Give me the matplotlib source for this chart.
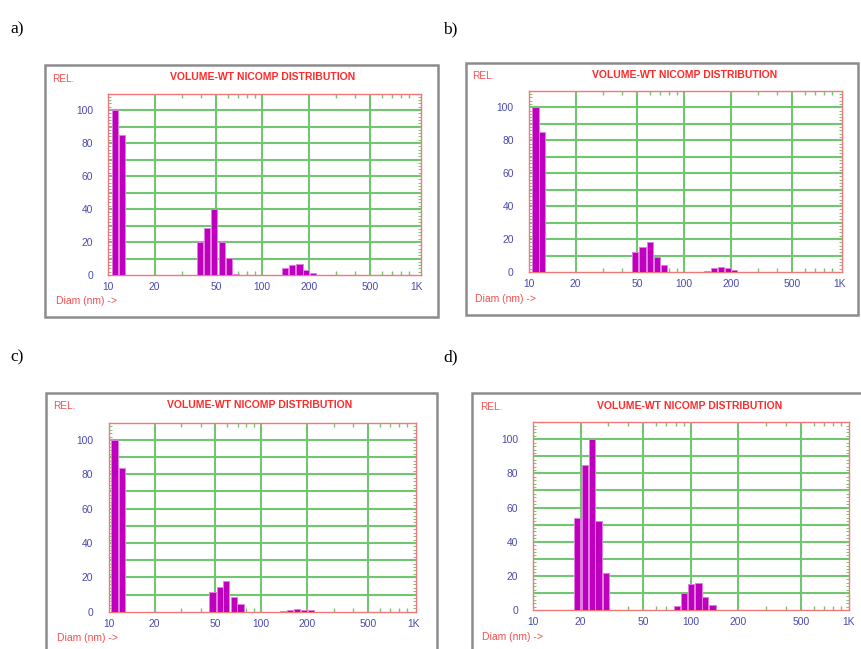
import matplotlib
matplotlib.use("Agg")
import matplotlib.pyplot as plt
import matplotlib.patches as patches
from matplotlib.ticker import FixedLocator, NullFormatter, MultipleLocator
import numpy as np

W, H = 861, 649

# ---------------- data ----------------
panel_labels = ["a)", "b)", "c)", "d)"]
title_text = "VOLUME-WT NICOMP DISTRIBUTION"
x_tick_vals = [10, 20, 50, 100, 200, 500, 1000]
x_tick_labels = ["10", "20", "50", "100", "200", "500", "1K"]
y_tick_vals = [0, 20, 40, 60, 80, 100]
x_grid_vals = [20, 50, 100, 200, 500]
x_minor_vals = [30, 40, 60, 70, 80, 90, 300, 400, 600, 700, 800, 900]

a_diam = [11.05, 12.3, 39.4, 43.9, 48.7, 54.5, 60.7, 67.6, 141, 156, 174, 193, 214]
a_rel = [100, 85, 20, 28.5, 40, 20, 10.5, 0.8, 4.5, 5.8, 6.8, 3.0, 1.4]

b_diam = [11.0, 12.1, 48.3, 54, 60.4, 67, 74.5, 140.6, 155.5, 172.6, 191.6, 211]
b_rel = [100, 85, 12, 15, 18.3, 9, 4.3, 0.5, 2.2, 3.2, 2.7, 1.0]

c_diam = [10.9, 12.2, 47.9, 53.4, 59, 65.9, 73.1, 140, 155, 172, 191, 211]
c_rel = [100, 83.5, 11.7, 14.6, 18, 8.7, 4.5, 0.3, 1.0, 1.3, 1.2, 0.8]

d_diam = [19.0, 21.2, 23.5, 26.0, 28.9, 81.8, 90.6, 100.4, 111.4, 123.3, 137.4]
d_rel = [54, 85, 100, 52, 21.5, 2.3, 10.2, 15, 15.6, 7.8, 2.9]

series = [(a_diam, a_rel), (b_diam, b_rel), (c_diam, c_rel), (d_diam, d_rel)]

# ---------------- layout (pixels) ----------------
# plot area: left, top, right, bottom(y=0)
plot_boxes = [(108.3, 93.5, 421, 275), (529, 90.8, 842, 272),
              (108.7, 422.8, 416, 611.7), (533.3, 422.2, 849, 610)]
x_max = [1072, 1045, 1033, 1007]
frames = [(45, 65, 438, 317), (466, 63, 858, 315), (46, 393, 437, 665), (472, 393, 875, 665)]
label_pos = [(10, 29), (443, 29), (10, 357), (443, 357)]
title_pos = [(263, 77), (685, 75), (260, 405), (690, 406)]
rel_pos = [(52, 79), (472, 76), (53, 406), (480, 407)]
diam_pos = [(56, 301), (475, 299), (57, 638), (482, 637)]

BAR_LOG_W = 0.041
bar_color = "#BE00BE"
bar_edge = "#E27CE2"
grid_color = "#72C672"
border_color = "#F07878"
text_red = "#FF2A2A"
tick_blue = "#4A4AB0"

fig = plt.figure(figsize=(W / 100, H / 100), dpi=100)
fig.patch.set_facecolor("white")

def fx(x):
    return x / W

def fy(y):
    return 1 - y / H

for i in range(4):
    l, t, r, b = plot_boxes[i]
    fl, ft, fr, fb = frames[i]
    fig.patches.append(patches.Rectangle((fx(fl), fy(fb)), fx(fr - fl), (fb - ft) / H,
                                         transform=fig.transFigure, fill=False,
                                         edgecolor="#8C8C8C", linewidth=1.8, zorder=0))
    ax = fig.add_axes([fx(l), fy(b), (r - l) / W, (b - t) / H])
    ax.set_xscale("log")
    ax.set_xlim(10, x_max[i])
    ax.set_ylim(0, 110)
    for s in ax.spines.values():
        s.set_color(border_color)
        s.set_linewidth(1.0)
    # grid
    for yv in range(10, 110, 10):
        ax.axhline(yv, color=grid_color, lw=1.5, zorder=1)
    for xv in x_grid_vals:
        ax.axvline(xv, color=grid_color, lw=1.5, zorder=1)
    # bars
    d = np.array(series[i][0], dtype=float)
    h = np.array(series[i][1], dtype=float)
    lefts = d * 10 ** (-BAR_LOG_W / 2)
    widths = d * 10 ** (BAR_LOG_W / 2) - lefts
    ax.bar(lefts, h, width=widths, align="edge", color=bar_color,
           edgecolor=bar_edge, linewidth=0.7, zorder=3)
    # ticks
    ax.xaxis.set_major_locator(FixedLocator(x_tick_vals))
    ax.set_xticklabels(x_tick_labels)
    ax.xaxis.set_minor_locator(FixedLocator(x_minor_vals))
    ax.xaxis.set_minor_formatter(NullFormatter())
    ax.set_yticks(y_tick_vals)
    ax.yaxis.set_minor_locator(MultipleLocator(2))
    ax.tick_params(axis="x", which="major", length=0, pad=5, labelsize=7.4,
                   labelcolor=tick_blue, labelfontfamily="Liberation Sans")
    ax.tick_params(axis="y", which="major", length=0, pad=11, labelsize=7.4,
                   labelcolor=tick_blue, labelfontfamily="Liberation Sans")
    ax.tick_params(axis="x", which="minor", direction="in", length=3, width=1.0,
                   color=grid_color, top=True, bottom=True)
    ax.tick_params(axis="y", which="minor", direction="in", length=2.5, width=0.7,
                   color=grid_color, left=True, right=True)
    # texts
    fig.text(fx(label_pos[i][0]), fy(label_pos[i][1]), panel_labels[i],
             family="Liberation Serif", fontsize=12.5, va="center", ha="left")
    fig.text(fx(title_pos[i][0]), fy(title_pos[i][1]), title_text,
             family="Liberation Sans", fontweight="bold", fontsize=7.5,
             color=text_red, va="center", ha="center")
    fig.text(fx(rel_pos[i][0]), fy(rel_pos[i][1]), "REL.",
             family="Liberation Sans", fontsize=7.2, color="#F05050",
             va="center", ha="left")
    fig.text(fx(diam_pos[i][0]), fy(diam_pos[i][1]), "Diam (nm) ->",
             family="Liberation Sans", fontsize=7.5, color="#F05050",
             va="center", ha="left")

fig.savefig("out.png", dpi=100)
